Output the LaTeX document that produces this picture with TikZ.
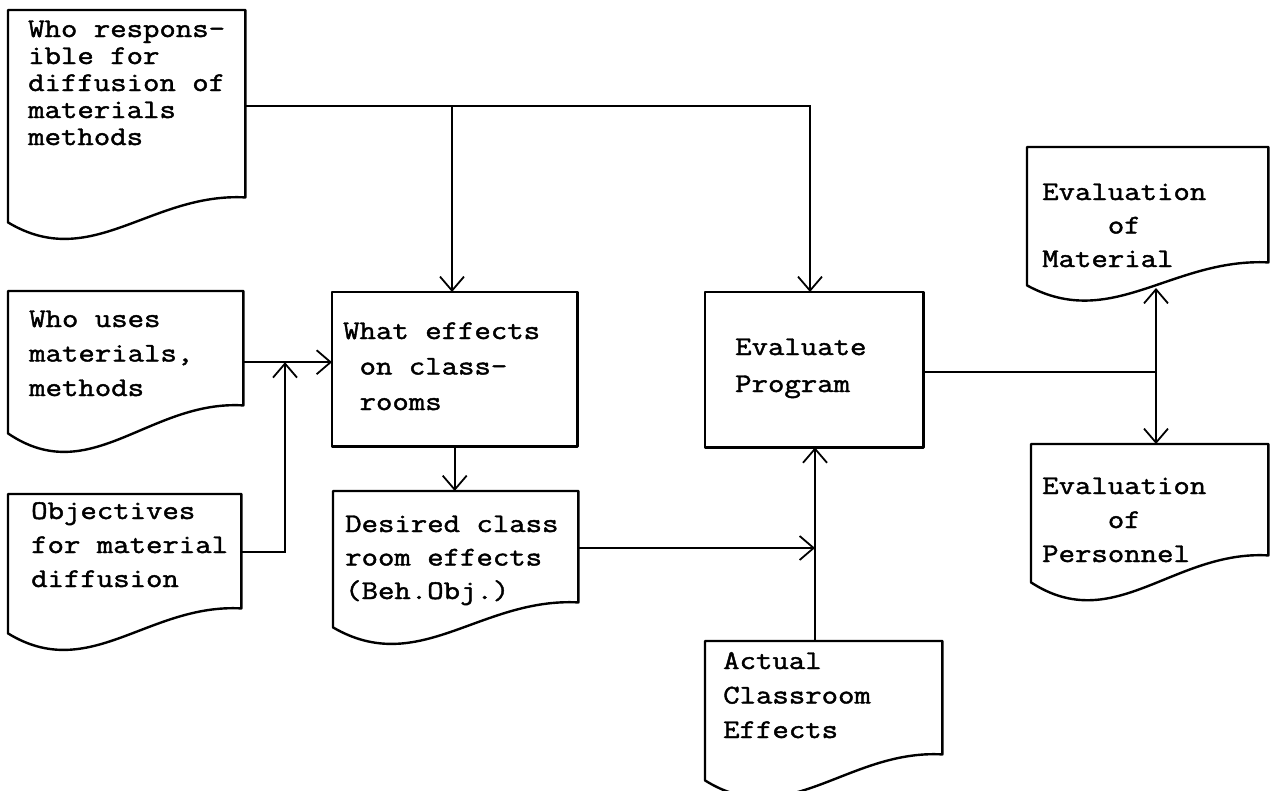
\documentclass[tikz,border=0pt]{standalone}
\usepackage{fontspec}
\setmonofont{Latin Modern Mono}[FakeStretch=1.18,FakeBold=1.6]
\usetikzlibrary{arrows.meta,calc}

% document-shaped outline: flat top, wavy bottom edge rising to the right
\newcommand\docoutline[2]{%
  \draw[outline] (#1.south west) -- (#1.north west) -- (#1.north east)
    -- ($(#1.south east)+(0,-#2)$)
    .. controls ($(#1.south west)!0.6!(#1.south east)+(0,-1.2*#2)$)
           and ($(#1.south west)!0.35!(#1.south east)+(0,2*#2)$) .. (#1.south west)
    -- cycle;}

\begin{document}
\begin{tikzpicture}[x=1pt,y=-1pt,
  box/.style={draw=none, inner sep=0pt, anchor=north west},
  outline/.style={line width=2.4pt, line join=round, fill=white},
  % multi-line texts are placed by the baseline of their last line
  boxtext/.style={anchor=base west, inner sep=0pt, align=left,
    font=\ttfamily\fontsize{27}{#1}\selectfont},
  boxtext/.default=34,
  link/.style={line width=1.8pt},
  arr/.style={link, -{Straight Barb[length=14pt,width=24pt,line width=1.8pt]}}]

\useasboundingbox (0,0) rectangle (1271,790);

% box frames
\node[box, minimum width=237, minimum height=212] (resp)  at (8,10)    {};
\node[box, minimum width=235, minimum height=142] (uses)  at (8,291)   {};
\node[box, minimum width=233, minimum height=139] (obj)   at (8,494)   {};
\node[box, minimum width=245, minimum height=154] (what)  at (332,292) {};
\node[box, minimum width=245, minimum height=136] (des)   at (333,491) {};
\node[box, minimum width=218, minimum height=155] (evalp) at (705,292) {};
\node[box, minimum width=237, minimum height=139] (act)   at (705,641) {};
\node[box, minimum width=241, minimum height=138] (mat)   at (1027,147) {};
\node[box, minimum width=237, minimum height=138] (pers)  at (1031,444) {};

\docoutline{resp}{25}
\docoutline{uses}{28}
\docoutline{obj}{25}
\docoutline{des}{25}
\docoutline{act}{26}
\docoutline{mat}{23}
\docoutline{pers}{27}
\draw[outline] (what.north west) rectangle (what.south east);
\draw[outline] (evalp.north west) rectangle (evalp.south east);

% box texts
\node[boxtext=27] (resp-t) at (28,145)
  {Who respons-\\ible for\\diffusion of\\materials\\methods};
\node[boxtext=34.5] (uses-t) at (29,396) {Who uses\\materials,\\methods};
\node[boxtext=34] (obj-t) at (31,587) {Objectives\\for material\\diffusion};
\node[boxtext=35.5] (what-t) at (343,410) {What effects\\\ on class-\\\ rooms};
\node[boxtext=33.5] (des-t) at (345,599) {Desired class\\room effects\\(Beh.Obj.)};
\node[boxtext=37] (evalp-t) at (735,392) {Evaluate\\Program};
\node[boxtext=33.5] (mat-t) at (1042,267) {Evaluation\\\ \ \ \ of\\Material};
\node[boxtext=34] (pers-t) at (1042,562) {Evaluation\\\ \ \ \ of\\Personnel};
\node[boxtext=34.5] (act-t) at (723,738) {Actual\\Classroom\\Effects};

% junction points of the connectors
\coordinate (top1) at (452,106);
\coordinate (top2) at (810,106);
\coordinate (bend) at (285,552);
\coordinate (dj)   at (815,548);
\coordinate (rj)   at (1156,372);
\coordinate (mattip) at (1156,288);

% connectors
\draw[link] (resp.east |- top1) -- (top1);
\draw[arr] (top1) -- (top2) -- (top2 |- evalp.north);
\draw[arr] (top1) -- (top1 |- what.north);
\draw[arr] (uses.east) -- (uses.east -| what.west);
\draw[arr] (obj.east |- bend) -- (bend) -- (bend |- uses.east);
\draw[arr] (what.south) -- (what.south |- des.north);
\draw[arr] (des.east |- dj) -- (dj);
\draw[arr] (act.north -| dj) -- (evalp.south -| dj);
\draw[link] (evalp.east |- rj) -- (rj);
\draw[arr] (rj) -- (mattip);
\draw[arr] (rj) -- (rj |- pers.north);

\end{tikzpicture}
\end{document}
